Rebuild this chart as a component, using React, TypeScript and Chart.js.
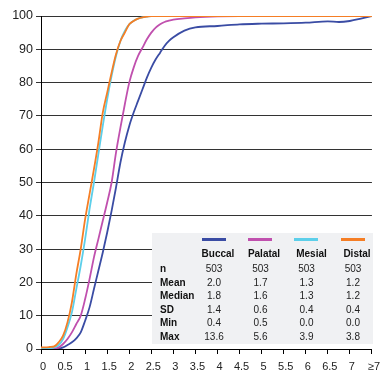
import React, { useEffect, useRef } from 'react';
import { Chart, registerables } from 'chart.js';
Chart.register(...registerables);

const xs = [0, 0.1, 0.2, 0.3, 0.4, 0.5, 0.6, 0.7, 0.8, 0.9, 1.0, 1.1, 1.2, 1.3, 1.4, 1.5, 1.6, 1.7, 1.8, 1.9, 2.0, 2.1, 2.2, 2.3, 2.4, 2.5, 2.6, 2.7, 2.8, 2.9, 3.0, 3.25, 3.5, 4, 4.5, 5, 5.5, 6, 6.5, 6.75, 7, 7.25, 7.5];

const buccal = [0, 0, 0, 0, 0.1, 0.5, 1.2, 2, 3.2, 5, 8.5, 12.5, 18, 23.5, 29, 35, 41.5, 48.5, 56, 62, 67, 71, 74.5, 78, 81.5, 84.5, 87, 89, 91, 92.5, 93.6, 95.6, 96.6, 97.0, 97.5, 97.7, 97.8, 98.0, 98.4, 98.2, 98.5, 99.2, 100];
const palatal = [0, 0, 0, 0.1, 0.5, 1.5, 3, 5, 7.5, 10, 15, 21, 27.5, 33, 38.5, 44, 50, 59, 66.5, 73.5, 80, 84.5, 88, 90.5, 93, 95, 96.5, 97.5, 98.2, 98.6, 98.9, 99.3, 99.6, 99.9, 100, 100, 100, 100, 100, 100, 100, 100, 100];
const mesial = [0, 0, 0.2, 0.5, 1.2, 3, 6.5, 11, 18, 25, 33, 42, 50, 58.5, 67, 75, 82, 88, 92.5, 95.5, 97.5, 98.6, 99.2, 99.6, 99.8, 100, 100, 100, 100, 100, 100, 100, 100, 100, 100, 100, 100, 100, 100, 100, 100, 100, 100];
const distal = [0.5, 0.5, 0.6, 0.8, 2, 4, 8, 14, 22.5, 30, 39, 46.5, 54, 62, 71, 77, 83, 88.5, 92.5, 95, 97.5, 98.5, 99.2, 99.6, 99.8, 100, 100, 100, 100, 100, 100, 100, 100, 100, 100, 100, 100, 100, 100, 100, 100, 100, 100];

const seriesNames = ['Buccal', 'Palatal', 'Mesial', 'Distal'];
const seriesColors = ['#3a4ca4', '#c050ae', '#5ccfea', '#f57e25'];
const statLabels = ['n', 'Mean', 'Median', 'SD', 'Min', 'Max'];
const statBuccal = ['503', '2.0', '1.8', '1.4', '0.4', '13.6'];
const statPalatal = ['503', '1.7', '1.6', '0.6', '0.5', '5.6'];
const statMesial = ['503', '1.3', '1.3', '0.4', '0.0', '3.9'];
const statDistal = ['503', '1.2', '1.2', '0.4', '0.0', '3.8'];
const statCols = [statBuccal, statPalatal, statMesial, statDistal];

const FONT = '"Liberation Sans", Arial, sans-serif';

export default function App() {
  const ref = useRef<HTMLCanvasElement>(null);
  useEffect(() => {
    const all = [buccal, palatal, mesial, distal];
    const chart = new Chart(ref.current!, {
      type: 'line',
      data: {
        datasets: all.map((arr, i) => ({
          label: seriesNames[i],
          data: xs.map((x, j) => ({ x, y: arr[j] })),
          borderColor: seriesColors[i],
          borderWidth: 1.8,
          pointRadius: 0,
          cubicInterpolationMode: 'monotone' as const,
          fill: false,
          order: 3 - i,
        })),
      },
      options: {
        responsive: false,
        animation: false,
        layout: { padding: { left: 0, right: 12, top: 16, bottom: 4 } },
        plugins: { legend: { display: false }, tooltip: { enabled: false } },
        scales: {
          x: {
            type: 'linear',
            min: 0,
            max: 7.5,
            afterFit: (s: any) => { s.height = 22; },
            ticks: {
              stepSize: 0.5,
              autoSkip: false,
              maxRotation: 0,
              padding: 6,
              labelOffset: 2,
              color: '#222',
              font: { family: FONT, size: 11 },
              callback: (v: any) => (Math.abs(v - 7.5) < 1e-6 ? '≥7' : String(Number(Number(v).toFixed(1)))),
            },
            grid: { display: true, drawOnChartArea: false, drawTicks: true, tickLength: 5, color: '#000' },
            border: { display: true, color: '#000', width: 1 },
          },
          y: {
            min: 0,
            max: 100,
            afterFit: (s: any) => { s.width = 41; },
            ticks: { stepSize: 10, padding: 3, color: '#222', font: { family: FONT, size: 12.5 } },
            grid: { color: '#333', lineWidth: 1, tickLength: 5 },
            border: { display: true, color: '#000', width: 1 },
          },
        },
      },
    });
    return () => chart.destroy();
  }, []);

  const valueCenters = [214, 260.5, 306.5, 353];
  const headerCenters = [218, 264, 311.5, 357];
  const legendLeft = [202, 248, 294, 341];
  const rowY = [269, 282.5, 296, 309.5, 323, 336.5];

  return (
    <div style={{ position: 'absolute', left: 0, top: 0, width: 384, height: 375, fontFamily: FONT }}>
      <canvas ref={ref} width={384} height={375} style={{ position: 'absolute', left: 0, top: 0 }} />
      <div style={{ position: 'absolute', left: 152, top: 233, width: 221, height: 111, background: '#f0f1f3' }} />
      {seriesNames.map((n, i) => (
        <div key={'l' + n} style={{ position: 'absolute', left: legendLeft[i], top: 237.5, width: 24, height: 3, background: seriesColors[i] }} />
      ))}
      {seriesNames.map((n, i) => (
        <div key={'h' + n} style={{ position: 'absolute', left: headerCenters[i] - 30, width: 60, top: 253.5 - 7, height: 14, lineHeight: '14px', textAlign: 'center', fontWeight: 'bold', fontSize: 10, color: '#111' }}>{n}</div>
      ))}
      {statLabels.map((s, r) => (
        <div key={'s' + s} style={{ position: 'absolute', left: 160, top: rowY[r] - 7, height: 14, lineHeight: '14px', fontWeight: 'bold', fontSize: 10, color: '#111' }}>{s}</div>
      ))}
      {statCols.map((col, c) =>
        col.map((v, r) => (
          <div key={'v' + c + '-' + r} style={{ position: 'absolute', left: valueCenters[c] - 25, width: 50, top: rowY[r] - 7, height: 14, lineHeight: '14px', textAlign: 'center', fontSize: 10, color: '#222' }}>{v}</div>
        ))
      )}
    </div>
  );
}
